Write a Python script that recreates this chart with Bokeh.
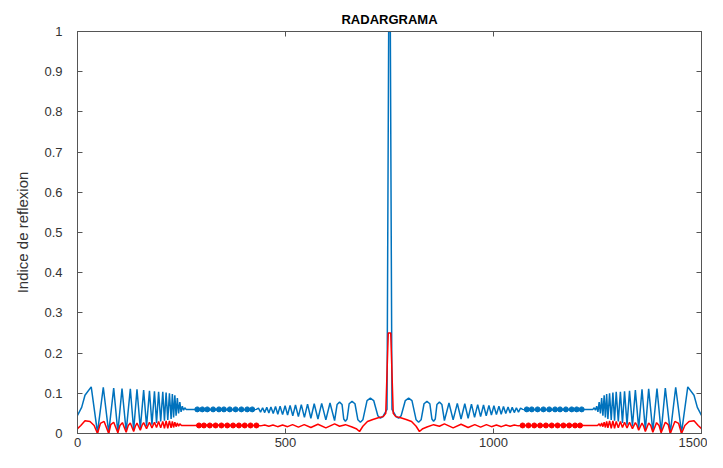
from bokeh.plotting import figure
from bokeh.models import LinearAxis, FixedTicker, Range1d
from bokeh.embed import file_html
from bokeh.resources import INLINE

# ---- data ----
x_ticks = [0, 500, 1000, 1500]
y_ticks = [0, 0.1, 0.2, 0.3, 0.4, 0.5, 0.6, 0.7, 0.8, 0.9, 1]
y_tick_labels = ["0", "0.1", "0.2", "0.3", "0.4", "0.5", "0.6", "0.7", "0.8", "0.9", "1"]

blue_left_x = [0, 10, 18, 33, 48, 62, 75, 87, 97, 107, 117, 127, 135, 143, 151, 159, 166, 173, 179, 185,
               190, 195, 200, 205, 209, 213, 217, 221, 225, 228, 231, 234, 237, 240, 243, 246, 249, 252, 255, 258,
               261, 280, 300, 330, 360, 390, 420, 430,
               435, 440, 445, 450, 455, 460, 465, 470.5, 476, 481.5, 487, 493, 499, 505, 511, 517.5, 524, 531,
               538, 545.5, 553, 561, 569, 578, 587, 597, 607, 618, 624, 630, 636, 640, 644, 648, 653, 660, 667,
               674, 680, 686, 696, 704, 712, 722, 728, 734]
blue_left_y = [0.045, 0.065, 0.095, 0.116, 0.002, 0.115, 0.002, 0.113, 0.003, 0.112, 0.005, 0.111, 0.008, 0.11,
               0.012, 0.108, 0.018, 0.106, 0.022, 0.105, 0.026, 0.104, 0.03, 0.104, 0.032, 0.102, 0.034, 0.1,
               0.036, 0.098, 0.04, 0.095, 0.044, 0.088, 0.05, 0.078, 0.054, 0.068, 0.058, 0.064,
               0.06, 0.06, 0.059, 0.06, 0.059, 0.06, 0.058, 0.06,
               0.063, 0.053, 0.064, 0.052, 0.065, 0.051, 0.066, 0.05, 0.067, 0.048, 0.068, 0.047, 0.069, 0.046,
               0.07, 0.044, 0.071, 0.042, 0.072, 0.04, 0.073, 0.038, 0.074, 0.036, 0.075, 0.034, 0.076, 0.032,
               0.072, 0.078, 0.072, 0.036, 0.03, 0.036, 0.074, 0.08, 0.074,
               0.034, 0.028, 0.034, 0.082, 0.088, 0.082, 0.044, 0.038, 0.042]

blue_peak_x = [744, 748, 752, 756]
blue_peak_y = [0.06, 1.0, 1.0, 0.06]

blue_right_x = [766, 772, 778, 788, 796, 804, 814, 820, 826, 833, 840, 847, 852, 856, 860, 864, 870, 876,
                882, 893, 903, 913, 922, 931, 939, 947, 954.5, 962, 969, 976,
                982.5, 989, 995, 1001, 1007, 1013, 1018.5, 1024, 1029.5, 1035, 1040, 1045, 1050, 1055, 1060, 1065,
                1070, 1080, 1110, 1140, 1170, 1200, 1220, 1239,
                1242, 1245, 1248, 1251, 1254, 1257, 1260, 1263, 1266, 1269, 1272, 1275, 1279, 1283, 1287, 1291,
                1295, 1300, 1305, 1310, 1315, 1321, 1327, 1334, 1341, 1349, 1357, 1365, 1373, 1383, 1393, 1403,
                1413, 1425, 1438, 1452, 1467, 1482, 1490, 1500]
blue_right_y = [0.042, 0.038, 0.044, 0.082, 0.088, 0.082, 0.034, 0.028, 0.034, 0.074, 0.08, 0.074, 0.036, 0.03,
                0.036, 0.072, 0.078, 0.072,
                0.032, 0.076, 0.034, 0.075, 0.036, 0.074, 0.038, 0.073,
                0.04, 0.072, 0.042, 0.071, 0.044, 0.07, 0.046, 0.069, 0.047, 0.068, 0.048, 0.067, 0.05, 0.066,
                0.051, 0.065, 0.052, 0.064, 0.053, 0.063,
                0.06, 0.058, 0.06, 0.059, 0.06, 0.059, 0.06, 0.06,
                0.064, 0.058, 0.068, 0.054, 0.078, 0.05, 0.088, 0.044, 0.095, 0.04, 0.098, 0.036, 0.1, 0.034,
                0.102, 0.032, 0.104, 0.03, 0.104, 0.026, 0.105, 0.022, 0.106, 0.018, 0.108, 0.012, 0.11, 0.008,
                0.111, 0.005, 0.112, 0.003, 0.113, 0.002, 0.115, 0.002, 0.116, 0.095, 0.065, 0.045]

red_left_x = [0, 8, 18, 30, 40, 48, 55, 64, 75, 80, 87, 97, 102, 108, 117, 122, 127, 135, 139, 143,
              151, 155, 159, 166, 173, 179, 185, 190, 195, 200, 205, 209, 213, 217, 221, 225, 228, 231, 234, 237,
              240, 243, 246, 250, 260, 280, 330, 380, 430, 440, 450, 460, 470, 481, 493, 505, 517, 531, 545, 561,
              578, 597, 618, 630, 644, 660, 670, 678, 686, 697, 710, 725, 735]
red_left_y = [0.012, 0.02, 0.032, 0.03, 0.02, 0.0, 0.025, 0.03, 0.0, 0.022, 0.028, 0.002, 0.02, 0.027, 0.003,
              0.02, 0.026, 0.005, 0.018, 0.026, 0.008, 0.02, 0.027, 0.012, 0.028, 0.014, 0.028, 0.015, 0.03, 0.014,
              0.03, 0.013, 0.031, 0.013, 0.031, 0.014, 0.03, 0.015, 0.028, 0.017, 0.026, 0.018, 0.024, 0.02, 0.02,
              0.02, 0.021, 0.02, 0.02, 0.019, 0.021, 0.018, 0.021, 0.017, 0.021, 0.017, 0.022, 0.016, 0.022, 0.015,
              0.023, 0.014, 0.024, 0.018, 0.022, 0.016, 0.012, 0.005, 0.018, 0.03, 0.035, 0.04, 0.042]

red_peak_x = [741, 747, 753, 759]
red_peak_y = [0.05, 0.25, 0.25, 0.05]

red_right_x = [765, 775, 790, 803, 814, 822, 830, 840, 856, 870, 882, 903, 922, 939, 955, 969, 983, 995, 1007,
               1019, 1030, 1040, 1050, 1060, 1070, 1120, 1170, 1220, 1240, 1250, 1254, 1257, 1260, 1263, 1266,
               1269, 1272, 1275, 1279, 1283, 1287, 1291, 1295, 1300, 1305, 1310, 1315, 1321, 1327, 1334, 1341,
               1345, 1349, 1357, 1361, 1365, 1373, 1378, 1383, 1392, 1398, 1403, 1413, 1420, 1425, 1436, 1445,
               1452, 1460, 1470, 1482, 1492, 1500]
red_right_y = [0.042, 0.04, 0.035, 0.03, 0.018, 0.005, 0.012, 0.016, 0.022, 0.018, 0.024, 0.014, 0.023, 0.015,
               0.022, 0.016, 0.022, 0.017, 0.021, 0.017, 0.021, 0.018, 0.021, 0.019, 0.02, 0.02, 0.021, 0.02, 0.02,
               0.02, 0.024, 0.018, 0.026, 0.017, 0.028, 0.015, 0.03, 0.014, 0.031, 0.013, 0.031, 0.013, 0.03,
               0.014, 0.03, 0.015, 0.028, 0.014, 0.028, 0.012, 0.027, 0.02, 0.008, 0.026, 0.018, 0.005, 0.026,
               0.02, 0.003, 0.027, 0.02, 0.002, 0.028, 0.022, 0.0, 0.03, 0.025, 0.0, 0.02, 0.03, 0.032, 0.02, 0.012]

blue_dot_x = [288, 300, 312, 326, 340, 352, 366, 380, 394, 408, 420,
              1080, 1092, 1106, 1120, 1134, 1148, 1160, 1174, 1188, 1200, 1212]
blue_dot_y = [0.06, 0.06, 0.06, 0.06, 0.06, 0.06, 0.06, 0.06, 0.06, 0.06, 0.06,
              0.06, 0.06, 0.06, 0.06, 0.06, 0.06, 0.06, 0.06, 0.06, 0.06, 0.06]
red_dot_x = [292, 304, 318, 332, 346, 360, 374, 388, 402, 416, 430,
             1070, 1084, 1098, 1112, 1126, 1140, 1154, 1168, 1182, 1196, 1208]
red_dot_y = [0.02, 0.02, 0.02, 0.02, 0.02, 0.02, 0.02, 0.02, 0.02, 0.02, 0.02,
             0.02, 0.02, 0.02, 0.02, 0.02, 0.02, 0.02, 0.02, 0.02, 0.02, 0.02]

BLUE = "#0072BD"
RED = "#FF0000"
AX = "#555555"
TXT = "#333333"
FONT = "Liberation Sans"

p = figure(width=707, height=452, output_backend="svg", toolbar_location=None,
           x_range=Range1d(0, 1500), y_range=Range1d(0, 1),
           min_border_left=77, min_border_right=6, min_border_top=31, min_border_bottom=19)

p.title.text = "RADARGRAMA"
p.title.align = "center"
p.title.text_font = FONT
p.title.text_font_size = "13px"
p.title.text_font_style = "bold"
p.title.text_color = "#000000"

p.xgrid.visible = False
p.ygrid.visible = False
p.outline_line_color = AX

p.xaxis.ticker = FixedTicker(ticks=x_ticks)
p.yaxis.ticker = FixedTicker(ticks=y_ticks)
p.yaxis.major_label_overrides = {t: s for t, s in zip(y_ticks, y_tick_labels)}
p.yaxis.axis_label = "Indice de reflexion"
p.yaxis.axis_label_text_font = FONT
p.yaxis.axis_label_text_font_size = "15px"
p.yaxis.axis_label_text_font_style = "normal"
p.yaxis.axis_label_text_color = TXT
p.yaxis.axis_label_standoff = 10

for ax in [p.xaxis[0], p.yaxis[0]]:
    ax.major_tick_in = 5
    ax.major_tick_out = 0
    ax.minor_tick_line_color = None
    ax.axis_line_color = AX
    ax.major_tick_line_color = AX
    ax.major_label_text_font = FONT
    ax.major_label_text_font_size = "13px"
    ax.major_label_text_color = TXT
p.yaxis.major_label_standoff = 15
p.xaxis.major_label_standoff = 4

rax = LinearAxis(ticker=FixedTicker(ticks=y_ticks), major_tick_in=5, major_tick_out=0,
                 minor_tick_line_color=None, axis_line_color=AX, major_tick_line_color=AX,
                 major_label_overrides={t: "" for t in y_ticks}, major_label_standoff=0)
tax = LinearAxis(ticker=FixedTicker(ticks=x_ticks), major_tick_in=5, major_tick_out=0,
                 minor_tick_line_color=None, axis_line_color=AX, major_tick_line_color=AX,
                 major_label_overrides={t: "" for t in x_ticks}, major_label_standoff=0)
p.add_layout(rax, "right")
p.add_layout(tax, "above")

blue_x = blue_left_x + blue_peak_x + blue_right_x
blue_y = blue_left_y + blue_peak_y + blue_right_y
red_x = red_left_x + red_peak_x + red_right_x
red_y = red_left_y + red_peak_y + red_right_y

p.line(blue_x, blue_y, line_color=BLUE, line_width=1.5)
p.scatter(blue_dot_x, blue_dot_y, marker="circle", size=5, fill_color=BLUE, line_color=BLUE)
p.line(red_x, red_y, line_color=RED, line_width=1.5)
p.scatter(red_dot_x, red_dot_y, marker="circle", size=5, fill_color=RED, line_color=RED)

open("out.html", "w").write(file_html(p, INLINE))
